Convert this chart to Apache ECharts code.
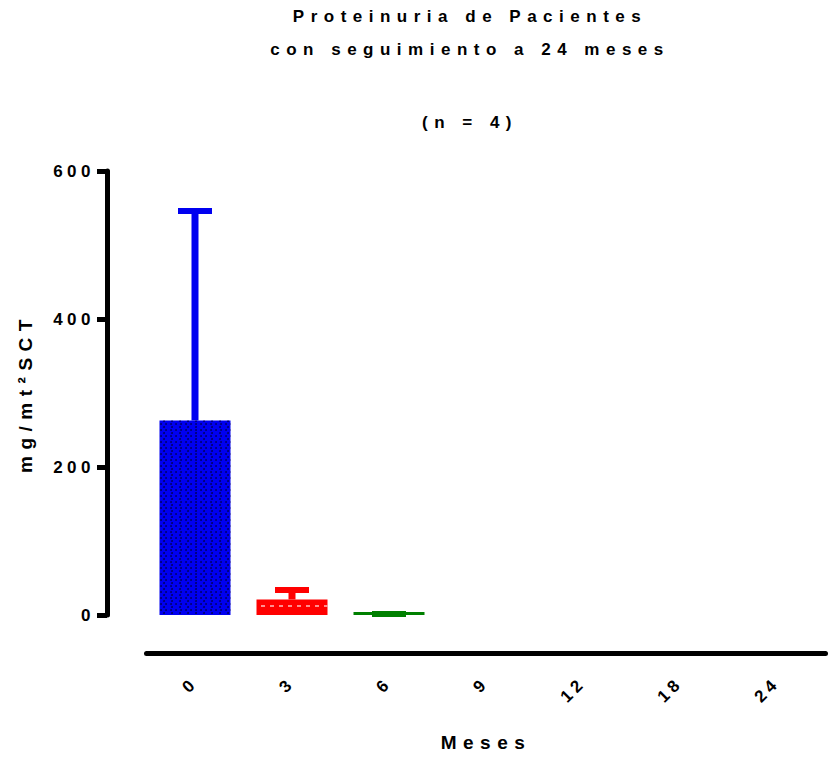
<!DOCTYPE html>
<html>
<head>
<meta charset="utf-8">
<script src="https://cdn.jsdelivr.net/npm/echarts@6/dist/echarts.min.js"></script>
<style>
html,body{margin:0;padding:0;background:#fff;}
#chart{width:833px;height:758px;}
</style>
</head>
<body>
<div id="chart"></div>
<script>
// ---- data ----
const categories = ['0', '3', '6', '9', '12', '18', '24'];
const means = [263, 21, 4, null, null, null, null];
const sdUpper = [287, 17, 1.4, null, null, null, null];
const yMin = 0, yMax = 600, yInterval = 200;
const titleLines = ['Proteinuria de Pacientes', 'con seguimiento a 24 meses'];
const subTitle = '(n = 4)';
const xName = 'Meses';
const yName = 'mg/mt²SCT';

// ---- style ----
const FONT = 'Arial, sans-serif';
const barColors = ['#0000F0', '#FF0000', '#008000', '#000', '#000', '#000', '#000'];
const decals = [
  {symbol: 'circle', symbolSize: 0.9, color: 'rgba(0,0,70,0.85)', dashArrayX: [[2, 2.4], [0, 2.2, 2, 2.4]], dashArrayY: [2, 0.4], rotation: 0},
  {symbol: 'rect', symbolSize: 1, color: 'rgba(255,190,190,0.75)', dashArrayX: [4, 5], dashArrayY: [1.2, 9], rotation: 0},
  'none', 'none', 'none', 'none', 'none'
];

const barData = means.map((v, i) => v == null ? '-' : {
  value: v,
  itemStyle: Object.assign({color: barColors[i]}, decals[i] !== 'none' ? {decal: decals[i]} : {})
});
const errData = [];
means.forEach((v, i) => { if (v != null) errData.push([i, v, sdUpper[i]]); });

const chart = echarts.init(document.getElementById('chart'), null, {renderer: 'svg'});
chart.setOption({
  animation: false,
  backgroundColor: '#fff',
  graphic: [
    {type: 'text', x: 470, y: 16, style: {text: titleLines[0], fill: '#000', fontSize: 17, fontWeight: 'bold', fontFamily: FONT, textAlign: 'center', textVerticalAlign: 'middle'}},
    {type: 'text', x: 470, y: 49, style: {text: titleLines[1], fill: '#000', fontSize: 17, fontWeight: 'bold', fontFamily: FONT, textAlign: 'center', textVerticalAlign: 'middle'}},
    {type: 'text', x: 470, y: 122, style: {text: subTitle, fill: '#000', fontSize: 17, fontWeight: 'bold', fontFamily: FONT, textAlign: 'center', textVerticalAlign: 'middle'}}
  ],
  grid: {left: 146.5, right: 7.5, top: 171, bottom: 143, containLabel: false},
  xAxis: {
    type: 'category',
    data: categories,
    offset: 38,
    boundaryGap: true,
    axisLine: {onZero: false, lineStyle: {color: '#000', width: 5}},
    axisTick: {alignWithLabel: true, length: 10, lineStyle: {color: '#000', width: 4}},
    axisLabel: {rotate: 45, margin: 27, color: '#000', fontSize: 17, fontWeight: 'bold', fontFamily: FONT, interval: 0},
    name: xName,
    nameLocation: 'middle',
    nameGap: 80,
    nameTextStyle: {color: '#000', fontSize: 19, fontWeight: 'bold', fontFamily: FONT}
  },
  yAxis: {
    type: 'value',
    min: yMin, max: yMax, interval: yInterval,
    offset: 39.5,
    splitLine: {show: false},
    axisLine: {show: true, lineStyle: {color: '#000', width: 5}},
    axisTick: {show: true, length: 10, lineStyle: {color: '#000', width: 5}},
    axisLabel: {margin: 12, color: '#000', fontSize: 17, fontWeight: 'bold', fontFamily: FONT},
    name: yName,
    nameLocation: 'middle',
    nameGap: 72,
    nameTextStyle: {color: '#000', fontSize: 19, fontWeight: 'bold', fontFamily: FONT}
  },
  series: [
    {
      type: 'custom',
      z: 1,
      data: errData,
      encode: {x: 0, y: [1, 2]},
      renderItem: function (params, api) {
        const i = api.value(0), m = api.value(1), s = api.value(2);
        const base = api.coord([i, m]);
        const top = api.coord([i, m + s]);
        const c = barColors[i];
        return {
          type: 'group',
          children: [
            {type: 'line', shape: {x1: base[0], y1: base[1], x2: top[0], y2: top[1] + 3}, style: {stroke: c, lineWidth: 7}},
            {type: 'line', shape: {x1: top[0] - 17, y1: top[1] + 3, x2: top[0] + 17, y2: top[1] + 3}, style: {stroke: c, lineWidth: 6}}
          ]
        };
      }
    },
    {
      type: 'bar',
      z: 2,
      barWidth: 71,
      data: barData
    }
  ]
});

function applySpacing() {
  const spacing = {};
  spacing[titleLines[0]] = 6.5; spacing[titleLines[1]] = 6.5; spacing[subTitle] = 6.5;
  spacing[xName] = 6.5; spacing[yName] = 6.5;
  document.querySelectorAll('#chart svg text').forEach(t => {
    const s = t.textContent;
    t.style.letterSpacing = (spacing[s] != null ? spacing[s] : 4.5) + 'px';
  });
}
chart.on('finished', applySpacing);
applySpacing();
</script>
</body>
</html>
